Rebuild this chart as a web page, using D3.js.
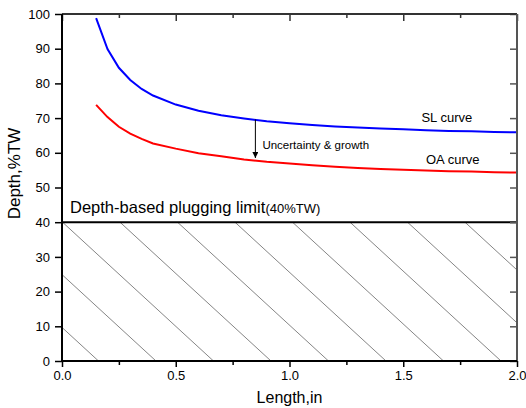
<!DOCTYPE html>
<html>
<head>
<meta charset="utf-8">
<script src="https://cdn.jsdelivr.net/npm/d3@7"></script>
<style>
  body { margin: 0; background: #fff; }
  text { font-family: "Liberation Sans", Arial, sans-serif; fill: #000; }
</style>
</head>
<body>
<div id="chart"></div>
<script>
// values
var lengths = [0.15, 0.2, 0.25, 0.3, 0.35, 0.4, 0.5, 0.6, 0.7, 0.8, 0.9, 1.0, 1.1, 1.2, 1.3, 1.4, 1.5, 1.6, 1.7, 1.8, 1.9, 2.0];
var slCurve = [98.8, 89.9, 84.5, 81.0, 78.4, 76.5, 73.9, 72.1, 70.8, 69.9, 69.1, 68.5, 68.0, 67.6, 67.3, 67.0, 66.8, 66.5, 66.3, 66.2, 66.0, 65.9];
var oaCurve = [73.8, 70.3, 67.5, 65.5, 64.0, 62.7, 61.2, 59.9, 59.0, 58.1, 57.4, 56.9, 56.4, 56.0, 55.6, 55.3, 55.1, 54.9, 54.7, 54.6, 54.4, 54.3];

var xTicks = [0, 0.5, 1.0, 1.5, 2.0];
var xMinorTicks = [0.25, 0.75, 1.25, 1.75];
var yTicks = [0, 10, 20, 30, 40, 50, 60, 70, 80, 90, 100];

var plugLimit = 40;
var arrowX = 0.85;
var arrowFrom = 69.6;
var arrowTo = 58.5;

var width = 526, height = 408;
var margin = { top: 14, right: 9, bottom: 47, left: 62 };
var w = width - margin.left - margin.right;
var h = height - margin.top - margin.bottom;

var x = d3.scaleLinear().domain([0, 2]).range([0, w]);
var y = d3.scaleLinear().domain([0, 100]).range([h, 0]);

var svg = d3.select("#chart").append("svg")
    .attr("width", width)
    .attr("height", height);

var defs = svg.append("defs");
defs.append("clipPath").attr("id", "hatchClip")
  .append("rect")
    .attr("x", 0).attr("y", y(plugLimit))
    .attr("width", w).attr("height", y(0) - y(plugLimit));

var g = svg.append("g")
    .attr("transform", "translate(" + margin.left + "," + margin.top + ")");

// hatched region below the plugging limit
var hatch = g.append("g").attr("clip-path", "url(#hatchClip)");
var hatchTop = y(plugLimit), hatchBottom = y(0);
var hatchStep = 57.5, hatchRun = 151;
for (var i = -3; i < 10; i++) {
  var xt = 0.5 + i * hatchStep;
  hatch.append("line")
    .attr("x1", xt).attr("y1", hatchTop)
    .attr("x2", xt + hatchRun).attr("y2", hatchBottom)
    .attr("stroke", "#666")
    .attr("stroke-width", 0.8);
}

// plugging limit line
g.append("line")
  .attr("x1", 0).attr("x2", w)
  .attr("y1", y(plugLimit)).attr("y2", y(plugLimit))
  .attr("stroke", "#000").attr("stroke-width", 2);

g.append("text")
  .attr("x", 8).attr("y", y(plugLimit) - 9)
  .style("font-size", "16.5px")
  .text("Depth-based plugging limit")
  .append("tspan")
  .style("font-size", "13px")
  .text("(40%TW)");

// curves
var line = d3.line()
  .x(function (d) { return x(d[0]); })
  .y(function (d) { return y(d[1]); });

g.append("path")
  .datum(d3.zip(lengths, slCurve))
  .attr("fill", "none")
  .attr("stroke", "#0000ff")
  .attr("stroke-width", 2)
  .attr("d", line);

g.append("path")
  .datum(d3.zip(lengths, oaCurve))
  .attr("fill", "none")
  .attr("stroke", "#ff0000")
  .attr("stroke-width", 2)
  .attr("d", line);

g.append("text")
  .attr("x", x(1.58)).attr("y", y(67.7))
  .attr("dy", "-0.35em")
  .style("font-size", "13px")
  .text("SL curve");

g.append("text")
  .attr("x", x(1.6)).attr("y", y(56.7))
  .style("font-size", "13px")
  .text("OA curve");

// uncertainty arrow
defs.append("marker")
  .attr("id", "arrowHead")
  .attr("viewBox", "0 0 10 10")
  .attr("refX", 10).attr("refY", 5)
  .attr("markerWidth", 6).attr("markerHeight", 6)
  .attr("markerUnits", "userSpaceOnUse")
  .attr("orient", "auto")
  .append("path")
  .attr("d", "M0,0 L10,5 L0,10 z")
  .attr("fill", "#000");

g.append("line")
  .attr("x1", x(arrowX)).attr("x2", x(arrowX))
  .attr("y1", y(arrowFrom)).attr("y2", y(arrowTo))
  .attr("stroke", "#000").attr("stroke-width", 1)
  .attr("marker-end", "url(#arrowHead)");

g.append("text")
  .attr("x", x(arrowX) + 7).attr("y", y(61.2))
  .style("font-size", "11.5px")
  .text("Uncertainty & growth");

// axes
var bottomAxis = d3.axisBottom(x).tickValues(xTicks).tickFormat(d3.format(".1f")).tickSize(6).tickPadding(4);
var bottomMinor = d3.axisBottom(x).tickValues(xMinorTicks).tickFormat("").tickSize(4);
var topAxis = d3.axisBottom(x).tickValues(xTicks).tickFormat("").tickSize(7);
var topMinor = d3.axisBottom(x).tickValues(xMinorTicks).tickFormat("").tickSize(4);
var leftAxis = d3.axisLeft(y).tickValues(yTicks).tickSize(7).tickPadding(5);
var rightAxis = d3.axisLeft(y).tickValues(yTicks).tickFormat("").tickSize(7);

function styleAxis(sel, color) {
  sel.select(".domain").remove();
  sel.selectAll(".tick line").attr("stroke", color).attr("stroke-width", 1.5);
  sel.selectAll(".tick text")
    .style("font-size", "13px")
    .style("font-family", "'Liberation Sans', Arial, sans-serif")
    .attr("fill", "#000");
}

g.append("g").attr("transform", "translate(0," + h + ")").call(bottomAxis).call(styleAxis, "#000");
g.append("g").attr("transform", "translate(0," + h + ")").call(bottomMinor).call(styleAxis, "#000");
g.append("g").call(topAxis).call(styleAxis, "#333");
g.append("g").call(topMinor).call(styleAxis, "#333");
g.append("g").call(leftAxis).call(styleAxis, "#000");
g.append("g").attr("transform", "translate(" + w + ",0)").call(rightAxis).call(styleAxis, "#555");

// frame
g.append("line").attr("x1", 0).attr("x2", w).attr("y1", 0).attr("y2", 0)
  .attr("stroke", "#333").attr("stroke-width", 2);
g.append("line").attr("x1", w).attr("x2", w).attr("y1", 0).attr("y2", h)
  .attr("stroke", "#555").attr("stroke-width", 2);
g.append("line").attr("x1", 0).attr("x2", 0).attr("y1", 0).attr("y2", h)
  .attr("stroke", "#000").attr("stroke-width", 2);
g.append("line").attr("x1", 0).attr("x2", w).attr("y1", h).attr("y2", h)
  .attr("stroke", "#000").attr("stroke-width", 2);

// axis titles
g.append("text")
  .attr("x", w / 2).attr("y", h + 42)
  .attr("text-anchor", "middle")
  .style("font-size", "16px")
  .text("Length,in");

g.append("text")
  .attr("transform", "translate(" + (-42) + "," + (h / 2 - 14) + ") rotate(-90)")
  .attr("text-anchor", "middle")
  .style("font-size", "17px")
  .text("Depth,%TW");
</script>
</body>
</html>
